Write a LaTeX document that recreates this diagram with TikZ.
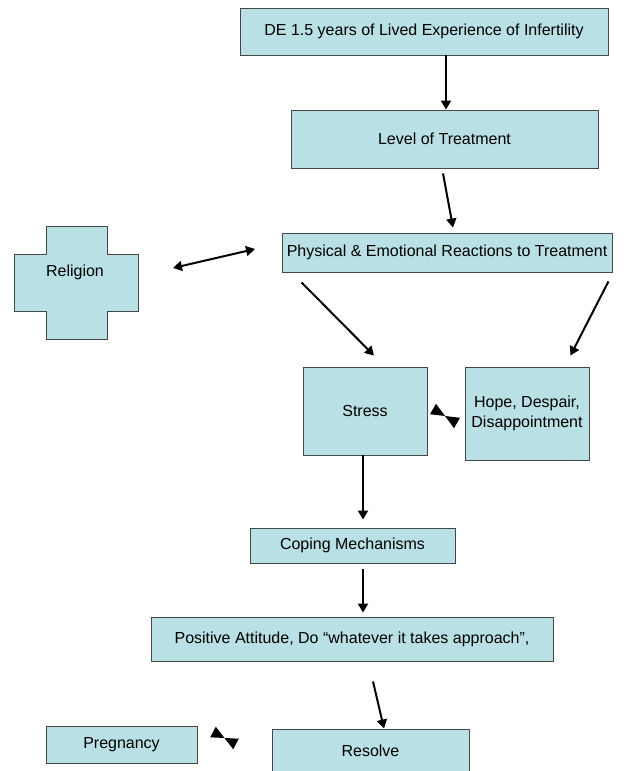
\documentclass[tikz,border=0pt]{standalone}
\usepackage{fontspec}
\setmainfont{Liberation Sans}
\usetikzlibrary{arrows.meta}
\definecolor{boxfill}{RGB}{185,224,228}
\definecolor{boxline}{RGB}{70,70,70}
\tikzset{
  stagebox/.style={draw=boxline, fill=boxfill, line width=0.9pt, inner sep=2pt, align=center},
  flowarrow/.style={-{Triangle[length=9pt,width=10pt]}, line width=2pt},
  bothways/.style={{Triangle[length=9pt,width=10pt]}-{Triangle[length=9pt,width=10pt]}, line width=2pt}
}
\begin{document}
\begin{tikzpicture}[x=1pt,y=-1pt,font=\fontsize{16}{19.5}\selectfont]
    \useasboundingbox (0,0) rectangle (639,771);
    \node[stagebox, minimum width=368pt, minimum height=47pt](infert) at (424,31.5) {DE 1.5 years of Lived Experience of Infertility};
    \node[stagebox, minimum width=307pt, minimum height=58pt](level) at (444.5,139) {Level of Treatment};
    \node[stagebox, minimum width=330pt, minimum height=39pt](physical) at (447,252.5) {Physical \& Emotional Reactions to Treatment};
    \node[stagebox, minimum width=124pt, minimum height=88pt](stress) at (365,411) {Stress};
    \node[stagebox, minimum width=124pt, minimum height=93pt](hope) at (527,413.5) {Hope, Despair,\\Disappointment};
    \node[stagebox, minimum width=205pt, minimum height=35pt](coping) at (352.5,545.5) {Coping Mechanisms};
    \node[stagebox, minimum width=402pt, minimum height=44pt](positive) at (352,639) {Positive Attitude, Do “whatever it takes approach”,};
    \node[stagebox, minimum width=197pt, minimum height=44pt](resolve) at (370.5,751) {Resolve};
    \node[stagebox, minimum width=151pt, minimum height=37pt](pregnancy) at (121.5,744.5) {Pregnancy};
    % religion cross
    \filldraw[draw=boxline, fill=boxfill, line width=0.9pt] (46,226)--(107,226)--(107,254)--(138,254)--(138,311)--(107,311)--(107,339)--(46,339)--(46,311)--(14,311)--(14,254)--(46,254)--cycle;
    \node(religion) at (75,272) {Religion};
    % free ends
    \coordinate (relL) at (173,268);
    \coordinate (relR) at (255,249);
    \coordinate (tieA) at (433,409);
    \coordinate (tieM) at (445,416);
    \coordinate (tieB) at (457,423);
    \coordinate (tieC) at (213,732);
    \coordinate (tieN) at (224.5,738);
    \coordinate (tieD) at (236,744);
    % connectors
    \draw[flowarrow] ([xshift=22pt]infert.south) -- ([xshift=1.5pt]level.north);
    \draw[flowarrow] ([xshift=-1.5pt,yshift=-5pt]level.south) -- ([xshift=6pt,yshift=5pt]physical.north);
    \draw[bothways] (relL) -- (relR);
    \draw[flowarrow] ([xshift=20pt,yshift=-10pt]physical.south west) -- ([xshift=9pt,yshift=11pt]stress.north);
    \draw[flowarrow] ([xshift=-4pt,yshift=-9pt]physical.south east) -- ([xshift=-19pt,yshift=11pt]hope.north east);
    \draw[flowarrow] ([xshift=-2pt]stress.south) -- ([xshift=10.5pt,yshift=8pt]coping.north);
    \draw[flowarrow] ([xshift=10.5pt,yshift=-6pt]coping.south) -- ([xshift=11pt,yshift=4pt]positive.north);
    \draw[flowarrow] ([xshift=21pt,yshift=-20pt]positive.south) -- ([xshift=13.5pt]resolve.north);
    % bow ties
    \fill (tieA) ++(-3,5.2) -- ++(6,-10.4) -- (tieM) -- cycle;
    \fill (tieB) ++(-3,5.2) -- ++(6,-10.4) -- (tieM) -- cycle;
    \fill (tieC) ++(-2.8,5.3) -- ++(5.6,-10.6) -- (tieN) -- cycle;
    \fill (tieD) ++(-2.8,5.3) -- ++(5.6,-10.6) -- (tieN) -- cycle;
\end{tikzpicture}
\end{document}
